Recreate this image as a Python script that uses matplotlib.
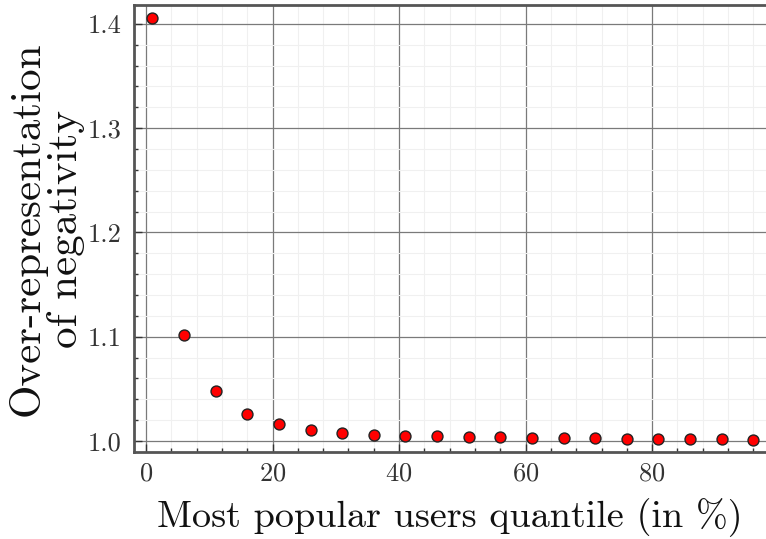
import numpy as np
import matplotlib
matplotlib.use('Agg')
import matplotlib.pyplot as plt
from matplotlib.ticker import MultipleLocator

plt.rcParams['font.family'] = 'serif'
plt.rcParams['font.serif'] = ['cmr10']
plt.rcParams['mathtext.fontset'] = 'cm'
plt.rcParams['axes.formatter.use_mathtext'] = True

# quantile (in %) and over-representation of negativity
quantile = [1, 6, 11, 16, 21, 26, 31, 36, 41, 46, 51, 56, 61, 66, 71, 76, 81, 86, 91, 96]
overrep = [1.406, 1.102, 1.048, 1.026, 1.016, 1.0106, 1.0077, 1.0058, 1.0048, 1.0043,
           1.0038, 1.0034, 1.0030, 1.0028, 1.0025, 1.0023, 1.0020, 1.0018, 1.0015, 1.0012]

fig = plt.figure(figsize=(7.66, 5.39), dpi=100)
ax = fig.add_axes([0.175, 0.1614, 0.825, 0.8293])

ax.scatter(quantile, overrep, s=62, c='#ff0000', edgecolors='#222222', linewidths=1.0, zorder=3)

ax.set_xlim(-1.9, 98)
ax.set_ylim(0.9894, 1.418)
ax.xaxis.set_major_locator(MultipleLocator(20))
ax.xaxis.set_minor_locator(MultipleLocator(4))
ax.yaxis.set_major_locator(MultipleLocator(0.1))
ax.yaxis.set_minor_locator(MultipleLocator(0.02))
ax.yaxis.set_major_formatter(plt.FormatStrFormatter('%.1f'))

ax.grid(which='major', color='#7a7a7a', linewidth=0.9)
ax.grid(which='minor', color='#f0f0f0', linewidth=0.8)
ax.set_axisbelow(True)

for s in ['left', 'bottom', 'top']:
    ax.spines[s].set_color('#555555')
    ax.spines[s].set_linewidth(2)
ax.spines['right'].set_visible(False)

ax.tick_params(which='both', direction='in', color='#333333', labelsize=19, labelcolor='#333333')
ax.tick_params(which='major', length=6, width=1)
ax.tick_params(which='minor', length=3, width=1)
ax.tick_params(axis='y', pad=9)
ax.tick_params(axis='x', pad=7)

ax.set_xlabel('Most popular users quantile (in %)', fontsize=27.5, color='#111111', labelpad=9)
ax.set_ylabel('Over-representation\nof negativity', fontsize=31, color='#111111',
              linespacing=1.0, labelpad=2)

fig.savefig('out.png', dpi=100)
